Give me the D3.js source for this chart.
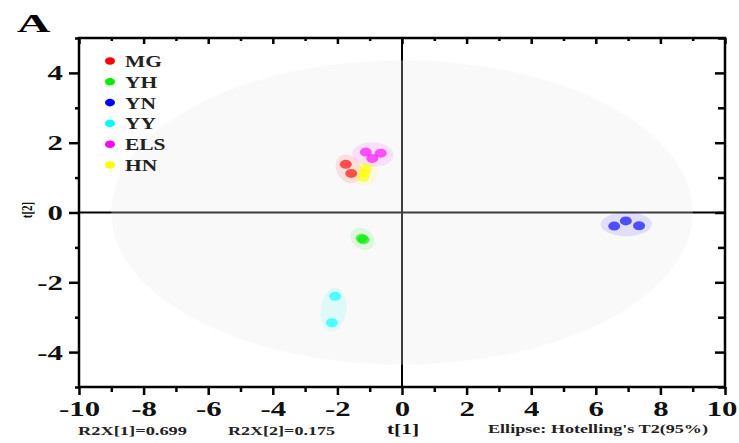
<!DOCTYPE html>
<html>
<head>
<meta charset="utf-8">
<script src="https://cdn.jsdelivr.net/npm/d3@7"></script>
<style>
body { margin: 0; background: #fff; }
text { font-family: "Liberation Serif", "Times New Roman", serif; font-weight: bold; }
</style>
</head>
<body>
<div id="scoreplot"></div>
<script>

// score values t[1], t[2]
var groups = ["MG", "YH", "YN", "YY", "ELS", "HN"];
var colors = ["#ff0000", "#00ee00", "#0000ff", "#00ffff", "#ff00ff", "#ffff00"];
var MG = [[-1.74, 1.38], [-1.57, 1.12]];
var YH = [[-1.25, -0.74], [-1.19, -0.78]];
var YN = [[6.57, -0.39], [6.93, -0.24], [7.34, -0.38]];
var YY = [[-2.07, -2.40], [-2.17, -3.16]];
var ELS = [[-1.12, 1.73], [-0.66, 1.70], [-0.92, 1.55]];
var HN = [[-1.12, 1.27], [-1.15, 1.14], [-1.20, 1.01]];
var scores = [MG, YH, YN, YY, ELS, HN];

var xTicks = [-10, -8, -6, -4, -2, 0, 2, 4, 6, 8, 10];
var yTicks = [-4, -2, 0, 2, 4];
var hotelling = [9.0, 4.36];   // semi axes of T2 ellipse (t1, t2)
var r2x = [0.699, 0.175];

var margin = { top: 38, right: 14, bottom: 56, left: 79 },
    width = 739 - margin.left - margin.right,
    height = 443 - margin.top - margin.bottom;

var svg = d3.select("#scoreplot")
    .append("svg")
    .attr("width", 739)
    .attr("height", 443);

var g = svg.append("g")
    .attr("transform", "translate(" + margin.left + "," + margin.top + ")");

var x = d3.scaleLinear().domain([-10, 10]).range([0, width]);
var y = d3.scaleLinear().domain([-5, 5]).range([height, 0]);

// plain hyphen like the original, not the unicode minus
var fmt = function (d) { return String(d); };

// zero lines (under the T2 ellipse, that is why they look gray inside)
g.append("line")
    .attr("x1", x(-10)).attr("x2", x(10))
    .attr("y1", y(0)).attr("y2", y(0))
    .attr("stroke", "#000").attr("stroke-width", 2);
g.append("line")
    .attr("x1", x(0)).attr("x2", x(0))
    .attr("y1", y(5)).attr("y2", y(-5))
    .attr("stroke", "#000").attr("stroke-width", 2);

g.append("ellipse")
    .attr("cx", x(0)).attr("cy", y(0))
    .attr("rx", x(hotelling[0]) - x(0))
    .attr("ry", y(0) - y(hotelling[1]))
    .attr("fill", "rgb(232,232,232)")
    .attr("opacity", 0.27);

// ellipse around each group's points
function groupEllipse(pts) {
    var px = pts.map(function (p) { return [x(p[0]), y(p[1])]; });
    var cx = d3.mean(px, function (d) { return d[0]; }),
        cy = d3.mean(px, function (d) { return d[1]; });
    var sxx = 0, syy = 0, sxy = 0;
    px.forEach(function (p) {
        sxx += (p[0] - cx) * (p[0] - cx);
        syy += (p[1] - cy) * (p[1] - cy);
        sxy += (p[0] - cx) * (p[1] - cy);
    });
    var ang = 0.5 * Math.atan2(2 * sxy, sxx - syy);
    var ux = Math.cos(ang), uy = Math.sin(ang);
    var a = 0, b = 0;
    px.forEach(function (p) {
        var dx = p[0] - cx, dy = p[1] - cy;
        a = Math.max(a, Math.abs(dx * ux + dy * uy));
        b = Math.max(b, Math.abs(-dx * uy + dy * ux));
    });
    var padA = Math.hypot(13 * ux, 8.5 * uy),
        padB = Math.hypot(13 * uy, 8.5 * ux);
    return { cx: cx, cy: cy, rx: a + padA, ry: b + padB, deg: ang * 180 / Math.PI };
}

for (var i = 0; i < scores.length; i++) {
    var e = groupEllipse(scores[i]);
    g.append("ellipse")
        .attr("transform", "translate(" + e.cx + "," + e.cy + ") rotate(" + e.deg + ")")
        .attr("rx", e.rx).attr("ry", e.ry)
        .attr("fill", colors[i])
        .attr("opacity", 0.1);
}

for (var i = 0; i < scores.length; i++) {
    g.append("g").selectAll("ellipse")
        .data(scores[i])
        .enter().append("ellipse")
        .attr("cx", function (d) { return x(d[0]); })
        .attr("cy", function (d) { return y(d[1]); })
        .attr("rx", 6).attr("ry", 4.5)
        .attr("fill", colors[i])
        .attr("opacity", 0.65);
}

// frame
g.append("rect")
    .attr("width", width).attr("height", height)
    .attr("fill", "none")
    .attr("stroke", "#000").attr("stroke-width", 2.5);

var allX = d3.range(-10, 11, 1), allY = d3.range(-5, 6, 1);
var minorX = allX.filter(function (v) { return v % 2 != 0; });
var minorY = allY.filter(function (v) { return v % 2 != 0; });

function tickStyle(sel) {
    sel.select(".domain").remove();
    sel.selectAll("line").attr("stroke", "#000").attr("stroke-width", 2.5);
}

// bottom
g.append("g").attr("transform", "translate(0," + height + ")")
    .call(d3.axisBottom(x).tickValues(minorX).tickSize(5).tickFormat(""))
    .call(tickStyle);
g.append("g").attr("transform", "translate(0," + height + ")")
    .call(d3.axisBottom(x).tickValues(xTicks).tickSize(8).tickFormat(fmt))
    .call(tickStyle)
    .selectAll("text")
    .attr("y", 29).attr("dy", null)
    .attr("fill", "#111")
    .attr("font-size", "22px")
    .attr("transform", "scale(1.4,1)")
    .filter(function (d) { return d == 10; })   // last one sits on the page edge
    .attr("text-anchor", "end")
    .attr("x", 12 / 1.4);

// left
g.append("g")
    .call(d3.axisLeft(y).tickValues(minorY).tickSize(4).tickFormat(""))
    .call(tickStyle);
g.append("g")
    .call(d3.axisLeft(y).tickValues(yTicks).tickSize(10).tickFormat(fmt))
    .call(tickStyle)
    .selectAll("text")
    .attr("x", -16 / 1.4)
    .attr("fill", "#111")
    .attr("font-size", "22px")
    .attr("transform", "scale(1.4,1)");

// top, inside
g.append("g")
    .call(d3.axisBottom(x).tickValues(minorX).tickSize(3).tickFormat(""))
    .call(tickStyle);
g.append("g")
    .call(d3.axisBottom(x).tickValues(xTicks).tickSize(6).tickFormat(""))
    .call(tickStyle);

// right, inside
g.append("g").attr("transform", "translate(" + width + ",0)")
    .call(d3.axisLeft(y).tickValues(minorY).tickSize(7).tickFormat(""))
    .call(tickStyle);
g.append("g").attr("transform", "translate(" + width + ",0)")
    .call(d3.axisLeft(y).tickValues(yTicks).tickSize(10).tickFormat(""))
    .call(tickStyle);

// legend
var legend = svg.append("g");
for (var i = 0; i < groups.length; i++) {
    var ly = 61 + i * 20.8;
    legend.append("ellipse")
        .attr("cx", 110).attr("cy", ly)
        .attr("rx", 5).attr("ry", 3.8)
        .attr("fill", colors[i]);
    legend.append("text")
        .text(groups[i])
        .attr("transform", "translate(125," + (ly + 6) + ") scale(1.3,1)")
        .attr("font-size", "16.5px")
        .attr("fill", "#222");
}

// titles and notes
svg.append("text").text("A")
    .attr("transform", "translate(17,32) scale(1.85,1)")
    .attr("font-size", "25px")
    .attr("fill", "#000");

svg.append("text").text("t[2]")
    .attr("transform", "translate(32,210) rotate(-90) scale(1,1.4)")
    .attr("text-anchor", "middle")
    .attr("font-size", "11px")
    .attr("fill", "#111");

svg.append("text").text("t[1]")
    .attr("x", 403).attr("y", 434)
    .attr("text-anchor", "middle")
    .attr("font-size", "14px")
    .attr("textLength", 32).attr("lengthAdjust", "spacingAndGlyphs")
    .attr("fill", "#111");

svg.append("text").text("R2X[1]=" + r2x[0].toFixed(3))
    .attr("x", 78).attr("y", 435)
    .attr("font-size", "12.5px")
    .attr("textLength", 109).attr("lengthAdjust", "spacingAndGlyphs")
    .attr("fill", "#222");

svg.append("text").text("R2X[2]=" + r2x[1].toFixed(3))
    .attr("x", 228).attr("y", 435)
    .attr("font-size", "12.5px")
    .attr("textLength", 107).attr("lengthAdjust", "spacingAndGlyphs")
    .attr("fill", "#222");

svg.append("text").text("Ellipse: Hotelling's T2(95%)")
    .attr("x", 488).attr("y", 433)
    .attr("font-size", "12.5px")
    .attr("textLength", 220).attr("lengthAdjust", "spacingAndGlyphs")
    .attr("fill", "#222");

</script>
</body>
</html>
